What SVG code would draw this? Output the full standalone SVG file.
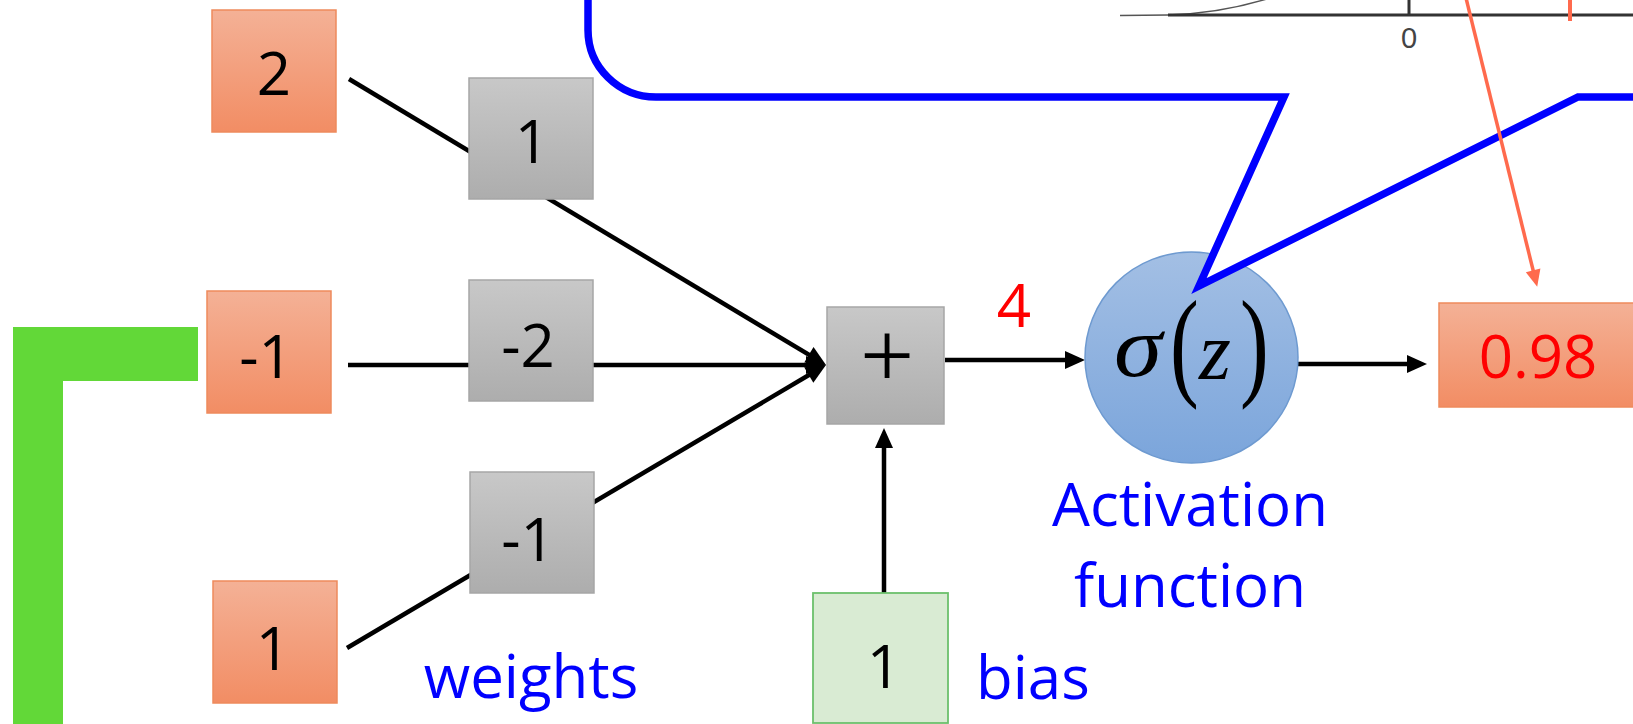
<svg xmlns="http://www.w3.org/2000/svg" width="1633" height="724" viewBox="0 0 1633 724">
  <defs>
    <linearGradient id="gOrange" x1="0" y1="0" x2="0" y2="1">
      <stop offset="0" stop-color="#F4B196"/>
      <stop offset="1" stop-color="#F28D64"/>
    </linearGradient>
    <linearGradient id="gGray" x1="0" y1="0" x2="0" y2="1">
      <stop offset="0" stop-color="#C8C8C8"/>
      <stop offset="1" stop-color="#ADADAD"/>
    </linearGradient>
    <linearGradient id="gBlue" x1="0" y1="0" x2="0" y2="1">
      <stop offset="0" stop-color="#A3BFE4"/>
      <stop offset="1" stop-color="#7BA5DB"/>
    </linearGradient>
    <marker id="arrow" markerUnits="userSpaceOnUse" markerWidth="20" markerHeight="18" refX="14" refY="9" orient="auto" overflow="visible">
      <path d="M0,0 L20,9 L0,18 Z" fill="#000"/>
    </marker>
    <marker id="arrowOr" markerUnits="userSpaceOnUse" markerWidth="17" markerHeight="15" refX="12" refY="7.5" orient="auto" overflow="visible">
      <path d="M0,0 L17,7.5 L0,15 Z" fill="#FF6A4D"/>
    </marker>
    <style>
      .inp { fill: url(#gOrange); stroke: #EE8A5C; stroke-width: 1.5; }
      .wt { fill: url(#gGray); stroke: #A6A6A6; stroke-width: 1.5; }
      .bias { fill: #D9EBD3; stroke: #6CC06C; stroke-width: 1.8; }
      .neuron { fill: url(#gBlue); stroke: #6E9AD0; stroke-width: 1.5; }
      .t { font-family: "Open Sans", "Noto Sans", sans-serif; font-size: 60px; text-anchor: middle; fill: #000; }
      .blue { fill: #0000FF; }
      .red { fill: #FF0000; }
      .link { stroke: #000; stroke-width: 4.5; fill: none; marker-end: url(#arrow); }
      .math { font-family: "Liberation Serif", "DejaVu Serif", serif; fill: #000; }
    </style>
  </defs>

  <rect width="1633" height="724" fill="#FFFFFF"/>

  <!-- green corner bracket -->
  <path id="bracket" d="M13,327 H198 V381 H63 V724 H13 Z" fill="#62D838"/>

  <!-- connectors -->
  <g id="connectors">
    <line class="link" x1="349" y1="79" x2="820.9" y2="361.9"/>
    <line class="link" x1="348" y1="365" x2="820" y2="365"/>
    <line class="link" x1="347" y1="648" x2="820.8" y2="368"/>
    <line class="link" x1="884" y1="595" x2="884" y2="434"/>
    <line class="link" x1="945" y1="360" x2="1079" y2="360"/>
    <line class="link" x1="1298" y1="364" x2="1421" y2="364"/>
  </g>

  <!-- inputs -->
  <g id="x1"><rect class="inp" x="212" y="10" width="124" height="122"/><text class="t" x="274" y="95">2</text></g>
  <g id="x2"><rect class="inp" x="207" y="291" width="124" height="122"/><text class="t" x="266" y="378">-1</text></g>
  <g id="x3"><rect class="inp" x="213" y="581" width="124" height="122"/><text class="t" x="273" y="670">1</text></g>

  <!-- weights -->
  <g id="w1"><rect class="wt" x="469" y="78" width="124" height="121"/><text class="t" x="532" y="163">1</text></g>
  <g id="w2"><rect class="wt" x="469" y="280" width="124" height="121"/><text class="t" x="528" y="367">-2</text></g>
  <g id="w3"><rect class="wt" x="470" y="472" width="124" height="121"/><text class="t" x="528" y="561">-1</text></g>
  <text id="weights-label" class="t blue" x="531" y="698">weights</text>

  <!-- summation -->
  <g id="sum">
    <rect class="wt" x="827" y="307" width="117" height="117"/>
    <text class="math" x="887" y="387" font-size="96" text-anchor="middle">+</text>
  </g>
  <text id="z-value" class="t red" x="1014" y="327">4</text>

  <!-- bias -->
  <g id="b">
    <rect class="bias" x="813" y="593" width="135" height="130"/>
    <text class="t" x="884" y="688">1</text>
  </g>
  <text id="bias-label" class="t blue" x="976" y="699" style="text-anchor:start">bias</text>

  <!-- activation -->
  <g id="activation">
    <ellipse class="neuron" cx="1191.5" cy="357.5" rx="106.5" ry="105.5"/>
    <text class="math" x="1114" y="376" font-size="86" font-style="italic" textLength="48" lengthAdjust="spacingAndGlyphs">σ</text>
    <text class="math" transform="translate(1170,384) scale(0.72,1)" font-size="120">(</text>
    <text class="math" x="1199" y="379" font-size="82" font-style="italic">z</text>
    <text class="math" transform="translate(1240,384) scale(0.72,1)" font-size="120">)</text>
  </g>
  <text class="t blue" x="1190" y="526">Activation</text>
  <text class="t blue" x="1190" y="607">function</text>

  <!-- output -->
  <g id="y">
    <rect class="inp" x="1439" y="303" width="200" height="104"/>
    <text class="t red" x="1538" y="378">0.98</text>
  </g>

  <!-- callout bubble -->
  <path id="callout" d="M588,-20 L588,30 A68,67 0 0 0 656,97 L1284,97 L1199,286 L1578,97 L1650,97 L1650,-20 Z"
        fill="#FFFFFF" stroke="#0000FF" stroke-width="7.5" stroke-linejoin="miter"/>

  <!-- sigmoid plot inside the callout -->
  <g id="plot">
    <path d="M1120,15.5 L1168,15 C1200,14 1235,9 1270,-2" fill="none" stroke="#555" stroke-width="1.5"/>
    <line x1="1168" y1="15" x2="1640" y2="15" stroke="#333" stroke-width="3"/>
    <line x1="1409" y1="-2" x2="1409" y2="15" stroke="#333" stroke-width="3"/>
    <text x="1409" y="48" font-family="Liberation Sans, Arial, sans-serif" font-size="29" fill="#444" text-anchor="middle">0</text>
    <line x1="1570" y1="-2" x2="1570" y2="21" stroke="#FF6A4D" stroke-width="4"/>
    <line x1="1466" y1="-2" x2="1536" y2="282" stroke="#FF6A4D" stroke-width="3.5" marker-end="url(#arrowOr)"/>
  </g>
</svg>
